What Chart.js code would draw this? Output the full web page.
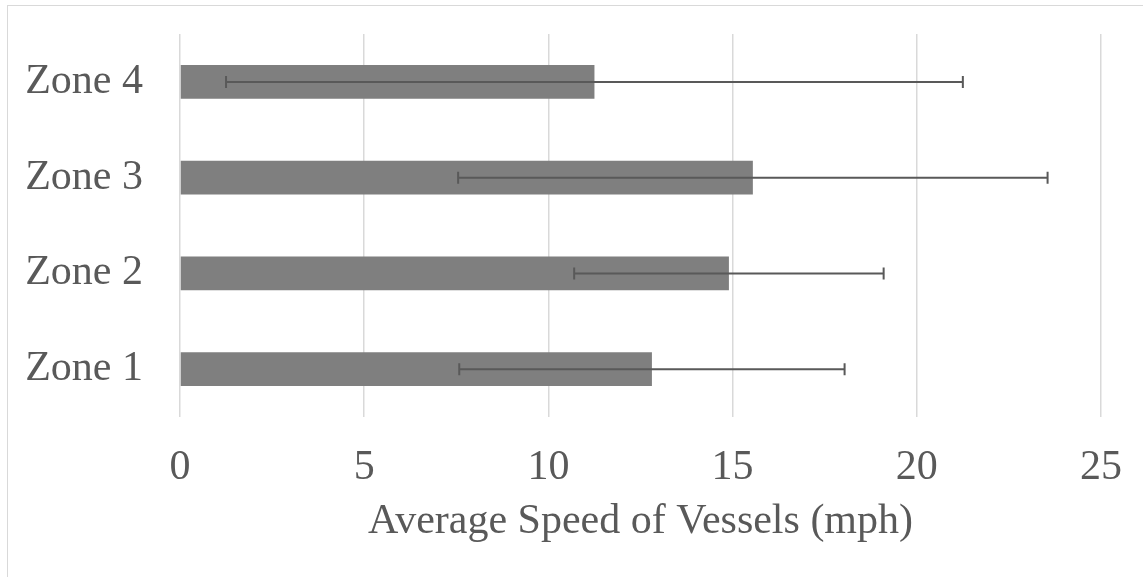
<!DOCTYPE html>
<html lang="en">
<head>
    <meta charset="UTF-8" />
    <title>Average Speed of Vessels</title>
    <script src="https://cdn.jsdelivr.net/npm/chart.js"></script>
    <style>
        html, body {
            margin: 0;
            padding: 0;
            background: #fff;
            overflow: hidden;
        }
        .frame {
            position: absolute;
            left: 7px;
            top: 5px;
            width: 1140px;
            height: 580px;
            border: 1px solid #d9d9d9;
        }
        .chart-box {
            position: absolute;
            left: 0;
            top: 0;
            width: 1143px;
            height: 577px;
        }
    </style>
</head>
<body>
    <div class="frame"></div>
    <div class="chart-box"><canvas id="speedChart"></canvas></div>

    <script>
        const zones = ["Zone 1", "Zone 2", "Zone 3", "Zone 4"];
        const avgSpeed = [12.81, 14.9, 15.55, 11.25];
        const speedError = [5.23, 4.2, 8.0, 10.0];
        const xTicks = [0, 5, 10, 15, 20, 25];

        const textColor = "#595959";
        const serif = "'Liberation Serif', Tinos, 'Times New Roman', Times, 'DejaVu Serif', serif";

        // error bars drawn from the x scale, one per bar
        const errorBars = {
            id: "errorBars",
            afterDatasetsDraw(chart) {
                const ctx = chart.ctx;
                const xScale = chart.scales.x;
                const meta = chart.getDatasetMeta(0);
                ctx.save();
                ctx.strokeStyle = "#595959";
                ctx.lineWidth = 2;
                meta.data.forEach((bar, i) => {
                    const lo = xScale.getPixelForValue(avgSpeed[i] - speedError[i]);
                    const hi = xScale.getPixelForValue(avgSpeed[i] + speedError[i]);
                    const y = bar.y;
                    ctx.beginPath();
                    ctx.moveTo(lo, y);
                    ctx.lineTo(hi, y);
                    ctx.moveTo(lo, y - 6);
                    ctx.lineTo(lo, y + 6);
                    ctx.moveTo(hi, y - 6);
                    ctx.lineTo(hi, y + 6);
                    ctx.stroke();
                });
                ctx.restore();
            }
        };

        new Chart(document.getElementById("speedChart"), {
            type: "bar",
            data: {
                labels: zones,
                datasets: [{
                    label: "Average Speed",
                    data: avgSpeed,
                    backgroundColor: "#7f7f7f",
                    borderWidth: 0,
                    barPercentage: 0.355,
                    categoryPercentage: 1
                }]
            },
            plugins: [errorBars],
            options: {
                indexAxis: "y",
                responsive: true,
                maintainAspectRatio: false,
                animation: false,
                layout: { padding: { top: 34, right: 42, bottom: 0, left: 0 } },
                plugins: {
                    legend: { display: false },
                    tooltip: { enabled: false }
                },
                scales: {
                    x: {
                        min: 0,
                        max: 25,
                        afterBuildTicks: (axis) => {
                            axis.ticks = xTicks.map((v) => ({ value: v }));
                        },
                        afterFit: (axis) => {
                            axis.height = 160;
                            axis.paddingLeft = 0;
                            axis.paddingRight = 0;
                        },
                        grid: { color: "#d9d9d9", lineWidth: 1.5, drawTicks: false },
                        border: { display: false },
                        ticks: {
                            color: textColor,
                            padding: 26,
                            font: { family: serif, size: 42 }
                        },
                        title: {
                            display: true,
                            text: "Average Speed of Vessels (mph)",
                            color: textColor,
                            padding: { top: 0, bottom: 30 },
                            font: { family: serif, size: 42 }
                        }
                    },
                    y: {
                        reverse: true,
                        afterFit: (axis) => {
                            axis.width = 180;
                            axis.paddingTop = 0;
                            axis.paddingBottom = 0;
                        },
                        grid: { display: false, drawTicks: false },
                        border: { display: false },
                        ticks: {
                            color: textColor,
                            padding: 37,
                            font: { family: serif, size: 42 }
                        }
                    }
                }
            }
        });
    </script>
</body>
</html>
